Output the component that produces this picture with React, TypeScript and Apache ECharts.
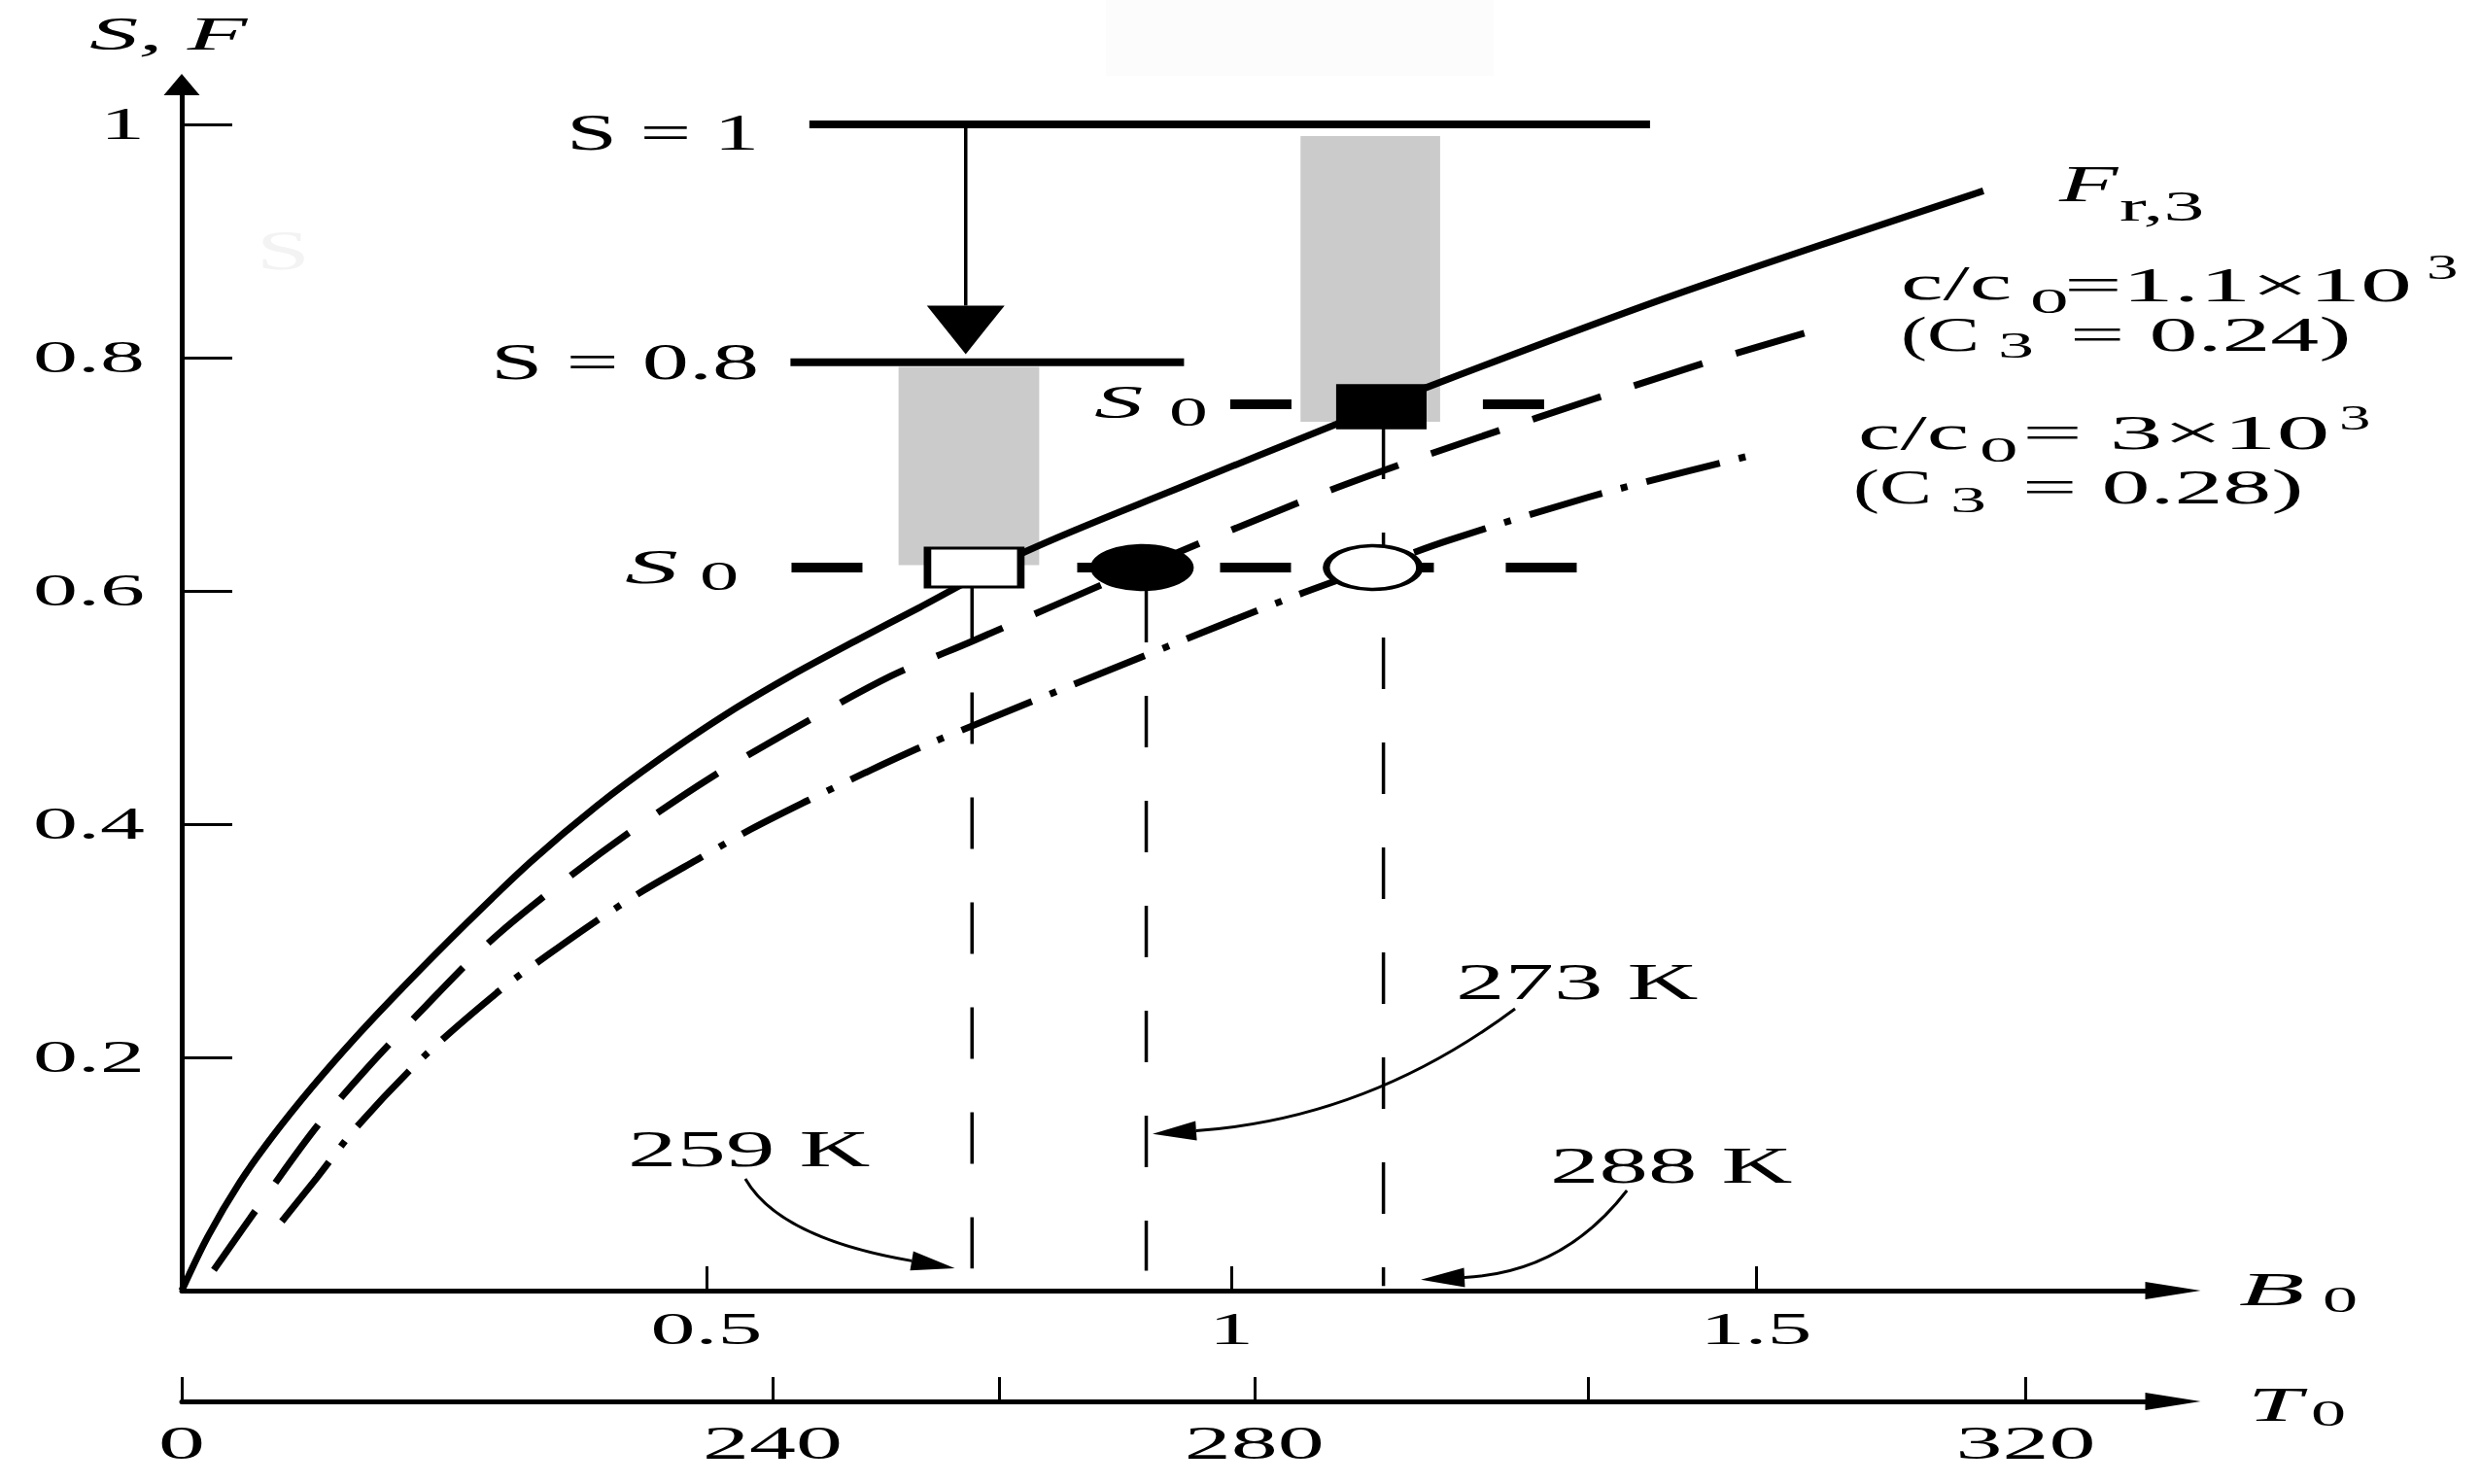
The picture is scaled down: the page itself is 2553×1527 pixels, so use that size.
import React, { useEffect, useRef } from "react";
import * as echarts from "echarts";

// ---- axes ----
const yTickValues = [0.2, 0.4, 0.6, 0.8, 1];
const yTickLabels = ["0.2", "0.4", "0.6", "0.8", "1"];
const b0TickValues = [0.5, 1, 1.5];
const b0TickLabels = ["0.5", "1", "1.5"];
// T0 scale is not linear in B0: position (in B0 units) of each temperature tick
const t0Temps = [0, 240, 260, 280, 300, 320];
const t0TickB0 = [0, 0.563, 0.779, 1.022, 1.34, 1.757];
const t0LabelTemps = [0, 240, 280, 320];

// ---- curves [B0, S/F] ----
const fr3Curve = [
  [0, 0], [0.0244, 0.0456], [0.0553, 0.0928], [0.0861, 0.1317], [0.1231, 0.1733],
  [0.1664, 0.2178], [0.2096, 0.259], [0.2713, 0.315], [0.333, 0.368], [0.3947, 0.415],
  [0.4565, 0.4565], [0.5182, 0.494], [0.5799, 0.527], [0.6417, 0.557], [0.7034, 0.586],
  [0.8046, 0.634], [0.952, 0.689], [1.1, 0.743], [1.1886, 0.7753], [1.42, 0.853],
  [1.7166, 0.943],
];
const c11Curve = [
  [0.0306, 0.0178], [0.0855, 0.0878], [0.129, 0.141], [0.1787, 0.1928], [0.2327, 0.2442],
  [0.2914, 0.2975], [0.3562, 0.3458], [0.4272, 0.3933], [0.5043, 0.44], [0.5877, 0.4839],
  [0.6756, 0.5269], [0.7528, 0.5567], [0.915, 0.62], [1.076, 0.68], [1.182, 0.715],
  [1.29, 0.748], [1.401, 0.781], [1.471, 0.801], [1.546, 0.821],
];
const c3Curve = [
  [0.0954, 0.0594], [0.129, 0.097], [0.167, 0.1406], [0.2318, 0.2017], [0.3077, 0.2608],
  [0.35, 0.2886], [0.3941, 0.3164], [0.4404, 0.3433], [0.4904, 0.3692], [0.5423, 0.3956],
  [0.596, 0.42], [0.6515, 0.4442], [0.709, 0.4678], [0.955, 0.558], [1.0587, 0.595],
  [1.132, 0.619], [1.206, 0.643], [1.339, 0.68], [1.4366, 0.703], [1.499, 0.717],
];

// ---- S levels (solid) and S0 levels (dashed) ----
const sLevelValues = [1, 0.796];
const sLevelFrom = [0.598, 0.58];
const sLevelTo = [1.399, 0.955];
const s0Values = [0.62, 0.76];
const s0From = [0.581, 0.999];
const s0To = [1.33, 1.3];

// grey bands [B0 from, S bottom, B0 to, S top]
const greyBands = [
  [0.683, 0.622, 0.817, 0.792],
  [1.066, 0.745, 1.199, 0.99],
];

// drop arrow from S = 1 to S = 0.8 [x1, y1, cx, cy, x2, y2]
const dropArrow = [[0.747, 1.0, 0.747, 0.9, 0.747, 0.803]];

// markers on S0
const markerB0 = [0.755, 0.915, 1.135, 1.143];
const markerS = [0.62, 0.62, 0.62, 0.758];

// temperatures
const tempLabels = ["259 K", "273 K", "288 K"];
const tempB0 = [0.753, 0.919, 1.145];
const tempTop = [0.603, 0.6, 0.74];
const tempBottom = [0.019, 0.017, 0.004];
const tempArrows = [
  [0.537, 0.0958, 0.5694, 0.045, 0.7366, 0.0192],
  [1.2704, 0.2417, 1.1306, 0.1475, 0.925, 0.1344],
  [1.377, 0.0858, 1.3167, 0.0155, 1.1806, 0.0094],
];

const FONT = '"Liberation Serif", "Times New Roman", serif';

type TOpt = { italic?: boolean; sx?: number; align?: string; color?: string; mid?: boolean };
const label = (text: string, x: number, y: number, size: number, o: TOpt = {}) => ({
  type: "text",
  x,
  y: o.mid ? y : y - 0.34 * size,
  scaleX: o.sx ?? 1.9,
  z: 50,
  silent: true,
  style: {
    text,
    fontFamily: FONT,
    fontSize: size,
    fontStyle: o.italic ? "italic" : "normal",
    fill: o.color ?? "#000",
    align: o.align ?? "left",
    verticalAlign: "middle",
  },
});

const arrowSeries = (name: string, data: number[][], width: number, headLen: number, headHalf: number) => ({
  type: "custom",
  name,
  coordinateSystem: "cartesian2d",
  clip: false,
  silent: true,
  z: 6,
  data,
  renderItem: (params: any, api: any) => {
    const r = data[params.dataIndex];
    const p1 = api.coord([r[0], r[1]]);
    const c = api.coord([r[2], r[3]]);
    const p2 = api.coord([r[4], r[5]]);
    const dx = p2[0] - c[0];
    const dy = p2[1] - c[1];
    const len = Math.hypot(dx, dy) || 1;
    const ux = dx / len;
    const uy = dy / len;
    const bx = p2[0] - ux * headLen;
    const by = p2[1] - uy * headLen;
    return {
      type: "group",
      children: [
        {
          type: "bezierCurve",
          shape: { x1: p1[0], y1: p1[1], cpx1: c[0], cpy1: c[1], x2: bx, y2: by },
          style: { stroke: "#000", lineWidth: width, fill: null },
        },
        {
          type: "polygon",
          shape: {
            points: [
              [p2[0], p2[1]],
              [bx - uy * headHalf, by + ux * headHalf],
              [bx + uy * headHalf, by - ux * headHalf],
            ],
          },
          style: { fill: "#000" },
        },
      ],
    };
  },
});

const App = () => {
  const chartRef = useRef<HTMLDivElement>(null);

  useEffect(() => {
    if (!chartRef.current) return;
    const chart = echarts.init(chartRef.current, null, { renderer: "svg" });

    const X_MAX = 2049 / 1080;
    const Y_MAX = 1241 / 1200;
    const axisLine = (w: number, h: number) => ({
      show: true,
      onZero: false,
      symbol: ["none", "triangle"],
      symbolSize: [w, h],
      lineStyle: { color: "#000", width: 5 },
    });

    const markerStyles = [
      { symbol: "rect", size: [96, 40], fill: "#fff" },
      { symbol: "circle", size: [99, 45], fill: "#000" },
      { symbol: "circle", size: [96, 45], fill: "#fff" },
      { symbol: "rect", size: [86, 43], fill: "#000" },
    ];

    const option: any = {
      animation: false,
      backgroundColor: "#fff",
      grid: { left: 187, top: 87, width: 2049, height: 1241 },
      xAxis: [
        {
          type: "value",
          min: 0,
          max: X_MAX,
          position: "bottom",
          axisLine: axisLine(18, 57),
          axisTick: { inside: true, length: 25, customValues: b0TickValues, lineStyle: { color: "#000", width: 3 } },
          axisLabel: { show: false },
          splitLine: { show: false },
        },
        {
          type: "value",
          min: 0,
          max: X_MAX,
          position: "bottom",
          offset: 114,
          axisLine: axisLine(18, 57),
          axisTick: { inside: true, length: 25, customValues: t0TickB0, lineStyle: { color: "#000", width: 3 } },
          axisLabel: { show: false },
          splitLine: { show: false },
        },
      ],
      yAxis: {
        type: "value",
        min: 0,
        max: Y_MAX,
        axisLine: axisLine(37, 22),
        axisTick: { show: true, inside: true, length: 52, customValues: yTickValues, lineStyle: { color: "#000", width: 3 } },
        axisLabel: { show: false },
        splitLine: { show: false },
      },
      series: [
        {
          type: "custom",
          name: "grey",
          coordinateSystem: "cartesian2d",
          silent: true,
          z: 1,
          data: greyBands,
          renderItem: (params: any, api: any) => {
            const r = greyBands[params.dataIndex];
            const a = api.coord([r[0], r[3]]);
            const b = api.coord([r[2], r[1]]);
            return { type: "rect", shape: { x: a[0], y: a[1], width: b[0] - a[0], height: b[1] - a[1] }, style: { fill: "#cbcbcb" } };
          },
        },
        {
          type: "line",
          name: "F r,3",
          data: fr3Curve,
          smooth: 0.3,
          symbol: "none",
          z: 3,
          lineStyle: { color: "#000", width: 7 },
        },
        {
          type: "line",
          name: "c/c0 = 1.1e3",
          data: c11Curve,
          smooth: 0.3,
          symbol: "none",
          z: 3,
          lineStyle: { color: "#000", width: 7, type: [74, 36] },
        },
        {
          type: "line",
          name: "c/c0 = 3e3",
          data: c3Curve,
          smooth: 0.3,
          symbol: "none",
          z: 3,
          lineStyle: { color: "#000", width: 7, type: [78, 20, 7, 20] },
        },
        ...sLevelValues.map((s, i) => ({
          type: "line",
          name: "S level " + s,
          data: [[sLevelFrom[i], s], [sLevelTo[i], s]],
          symbol: "none",
          z: 4,
          lineStyle: { color: "#000", width: 8 },
        })),
        ...s0Values.map((s, i) => ({
          type: "line",
          name: "S0 " + i,
          data: [[s0From[i], s], [s0To[i], s]],
          symbol: "none",
          z: 4,
          lineStyle: { color: "#000", width: 10, type: i === 0 ? [73, 74] : [63, 67] },
        })),
        ...tempB0.map((x, i) => ({
          type: "line",
          name: tempLabels[i],
          data: [[x, tempTop[i]], [x, tempBottom[i]]],
          symbol: "none",
          z: 4,
          lineStyle: { color: "#000", width: 3.5, type: [53, 55] },
        })),
        arrowSeries("drop", dropArrow, 3.5, 50, 40),
        arrowSeries("temps", tempArrows, 3, 45, 10),
        {
          type: "scatter",
          name: "S0 markers",
          z: 10,
          silent: true,
          data: markerB0.map((x, i) => ({
            value: [x, markerS[i]],
            symbol: markerStyles[i].symbol,
            symbolSize: markerStyles[i].size,
            itemStyle: { color: markerStyles[i].fill, borderColor: "#000", borderWidth: 5, opacity: 1 },
          })),
        },
      ],
    };

    chart.setOption(option);

    const px = (v: number) => chart.convertToPixel({ xAxisIndex: 0 }, v) as number;
    const py = (v: number) => chart.convertToPixel({ yAxisIndex: 0 }, v) as number;
    const x0 = px(0);
    const yB0 = py(0);
    const yT0 = yB0 + 114;

    const texts: any[] = [
      { type: "rect", shape: { x: 1138, y: 0, width: 399, height: 78 }, style: { fill: "#fcfcfc" }, z: 0, silent: true },
      label("S", 264, 277, 58, { sx: 1.7, color: "#f3f3f3" }),
      ...yTickValues.map((v, i) => label(yTickLabels[i], x0 - 38, py(v), 46, { mid: true, align: "right", sx: 2.0 })),
      ...b0TickValues.map((v, i) => label(b0TickLabels[i], px(v), yB0 + 40, 46, { mid: true, align: "center", sx: 2.0 })),
      ...t0LabelTemps.map((t) => label(String(t), px(t0TickB0[t0Temps.indexOf(t)]), yT0 + 43, 48, { mid: true, align: "center", sx: 2.0 })),
      label("S, F", 92, 51, 48, { italic: true, sx: 2.1 }),
      label("S = 1", 583, 154, 52, { sx: 1.8 }),
      label("S = 0.8", 505, 390, 52, { sx: 1.85 }),
      label("S", 643, 600, 50, { italic: true, sx: 2.2 }),
      label("0", 720, 607, 43, { sx: 1.87 }),
      label("S", 1126, 430, 48, { italic: true, sx: 2.1 }),
      label("0", 1203, 438, 42, { sx: 1.9 }),
      label("F", 2119, 207, 52, { italic: true, sx: 1.9 }),
      label("r,3", 2181, 227, 44, { sx: 1.9 }),
      label("c/c", 1956, 308, 50, { sx: 1.96 }),
      label("0", 2089, 322, 36, { sx: 2.2 }),
      label("=1.1×10", 2124, 310, 50, { sx: 2.12 }),
      label("3", 2497, 287, 36, { sx: 1.8 }),
      label("(C", 1956, 361, 50, { sx: 1.62 }),
      label("3", 2056, 368, 37, { sx: 2.0 }),
      label("= 0.24)", 2130, 361, 50, { sx: 2.0 }),
      label("c/c", 1912, 462, 50, { sx: 1.96 }),
      label("0", 2037, 475, 36, { sx: 2.2 }),
      label("= 3×10", 2081, 462, 50, { sx: 2.2 }),
      label("3", 2407, 442, 36, { sx: 1.8 }),
      label("(C", 1907, 518, 50, { sx: 1.62 }),
      label("3", 2007, 527, 37, { sx: 2.0 }),
      label("= 0.28)", 2081, 518, 50, { sx: 2.0 }),
      label(tempLabels[0], 646, 1200, 52, { sx: 1.94 }),
      label(tempLabels[1], 1498, 1028, 52, { sx: 1.94 }),
      label(tempLabels[2], 1595, 1217, 52, { sx: 1.94 }),
      label("B", 2304, 1343, 48, { italic: true, sx: 2.3 }),
      label("0", 2390, 1350, 38, { sx: 1.9 }),
      label("T", 2313, 1462, 50, { italic: true, sx: 2.0 }),
      label("0", 2378, 1467, 38, { sx: 1.9 }),
    ];

    chart.setOption({ graphic: { elements: texts } });

    return () => {
      chart.dispose();
    };
  }, []);

  return (
    <div
      ref={chartRef}
      style={{ position: "fixed", left: 0, top: 0, width: "100vw", height: "100vh", background: "#fff" }}
    />
  );
};

export default App;
